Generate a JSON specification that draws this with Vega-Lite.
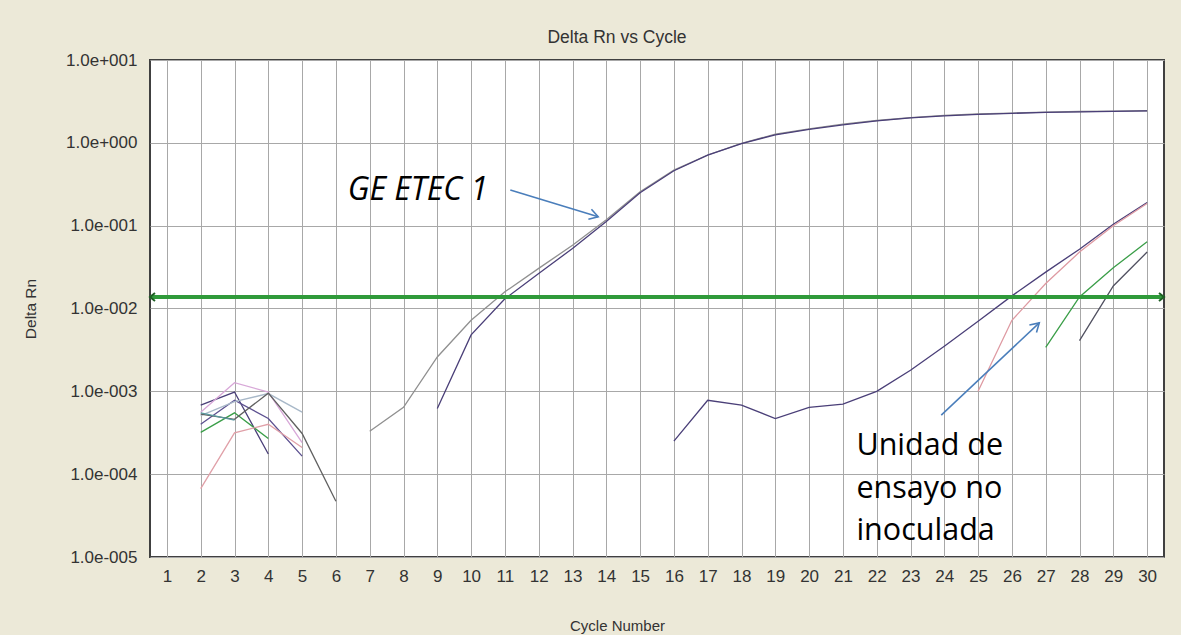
{
  "$schema": "https://vega.github.io/schema/vega-lite/v6.json",
  "width": 1014,
  "height": 497,
  "autosize": {"type": "none"},
  "padding": {"left": 150, "top": 60, "right": 17, "bottom": 78},
  "background": "#ECE9D8",
  "title": {"text": "Delta Rn vs Cycle", "font": "Liberation Sans", "fontSize": 17.5, "fontWeight": "normal", "color": "#333333", "anchor": "middle", "dx": -40, "offset": 5},
  "config": {
    "view": {"fill": "white", "stroke": "#404040", "strokeWidth": 2},
    "axis": {"gridColor": "#A8A8A8", "gridOpacity": 1, "gridWidth": 1, "ticks": false, "domain": false, "labelFont": "Liberation Sans", "labelFontSize": 17, "labelColor": "#333333", "labelFlush": false, "labelOverlap": false, "titleFont": "Liberation Sans", "titleFontWeight": "normal", "titleColor": "#333333"}
  },
  "datasets": {
    "curves": [
      {"series": "A", "cycle": 7, "rn": 0.00033}, {"series": "A", "cycle": 8, "rn": 0.00064}, {"series": "A", "cycle": 9, "rn": 0.0026}, {"series": "A", "cycle": 10, "rn": 0.0072}, {"series": "A", "cycle": 11, "rn": 0.0159}, {"series": "A", "cycle": 12, "rn": 0.0305}, {"series": "A", "cycle": 13, "rn": 0.058}, {"series": "A", "cycle": 14, "rn": 0.118}, {"series": "A", "cycle": 15, "rn": 0.257}, {"series": "A", "cycle": 16, "rn": 0.469}, {"series": "A", "cycle": 17, "rn": 0.713}, {"series": "A", "cycle": 18, "rn": 0.986}, {"series": "A", "cycle": 19, "rn": 1.27}, {"series": "A", "cycle": 20, "rn": 1.47}, {"series": "A", "cycle": 21, "rn": 1.68}, {"series": "A", "cycle": 22, "rn": 1.86}, {"series": "A", "cycle": 23, "rn": 2.02}, {"series": "A", "cycle": 24, "rn": 2.14}, {"series": "A", "cycle": 25, "rn": 2.23}, {"series": "A", "cycle": 26, "rn": 2.29}, {"series": "A", "cycle": 27, "rn": 2.35}, {"series": "A", "cycle": 28, "rn": 2.39}, {"series": "A", "cycle": 29, "rn": 2.42}, {"series": "A", "cycle": 30, "rn": 2.44},
      {"series": "B", "cycle": 9, "rn": 0.00062}, {"series": "B", "cycle": 10, "rn": 0.0048}, {"series": "B", "cycle": 11, "rn": 0.0131}, {"series": "B", "cycle": 12, "rn": 0.0265}, {"series": "B", "cycle": 13, "rn": 0.053}, {"series": "B", "cycle": 14, "rn": 0.112}, {"series": "B", "cycle": 15, "rn": 0.25}, {"series": "B", "cycle": 16, "rn": 0.46}, {"series": "B", "cycle": 17, "rn": 0.71}, {"series": "B", "cycle": 18, "rn": 0.98}, {"series": "B", "cycle": 19, "rn": 1.25}, {"series": "B", "cycle": 20, "rn": 1.45}, {"series": "B", "cycle": 21, "rn": 1.65}, {"series": "B", "cycle": 22, "rn": 1.84}, {"series": "B", "cycle": 23, "rn": 2.0}, {"series": "B", "cycle": 24, "rn": 2.12}, {"series": "B", "cycle": 25, "rn": 2.21}, {"series": "B", "cycle": 26, "rn": 2.27}, {"series": "B", "cycle": 27, "rn": 2.33}, {"series": "B", "cycle": 28, "rn": 2.37}, {"series": "B", "cycle": 29, "rn": 2.4}, {"series": "B", "cycle": 30, "rn": 2.43},
      {"series": "C", "cycle": 16, "rn": 0.00025}, {"series": "C", "cycle": 17, "rn": 0.00078}, {"series": "C", "cycle": 18, "rn": 0.00068}, {"series": "C", "cycle": 19, "rn": 0.00047}, {"series": "C", "cycle": 20, "rn": 0.00064}, {"series": "C", "cycle": 21, "rn": 0.0007}, {"series": "C", "cycle": 22, "rn": 0.001}, {"series": "C", "cycle": 23, "rn": 0.0018}, {"series": "C", "cycle": 24, "rn": 0.0035}, {"series": "C", "cycle": 25, "rn": 0.007}, {"series": "C", "cycle": 26, "rn": 0.0142}, {"series": "C", "cycle": 27, "rn": 0.0275}, {"series": "C", "cycle": 28, "rn": 0.052}, {"series": "C", "cycle": 29, "rn": 0.104}, {"series": "C", "cycle": 30, "rn": 0.19},
      {"series": "D", "cycle": 25, "rn": 0.001}, {"series": "D", "cycle": 26, "rn": 0.0072}, {"series": "D", "cycle": 27, "rn": 0.02}, {"series": "D", "cycle": 28, "rn": 0.048}, {"series": "D", "cycle": 29, "rn": 0.1}, {"series": "D", "cycle": 30, "rn": 0.185},
      {"series": "E", "cycle": 27, "rn": 0.0034}, {"series": "E", "cycle": 28, "rn": 0.0138}, {"series": "E", "cycle": 29, "rn": 0.031}, {"series": "E", "cycle": 30, "rn": 0.064},
      {"series": "F", "cycle": 28, "rn": 0.0041}, {"series": "F", "cycle": 29, "rn": 0.0187}, {"series": "F", "cycle": 30, "rn": 0.048},
      {"series": "N1", "cycle": 2, "rn": 0.00068}, {"series": "N1", "cycle": 3, "rn": 0.00098}, {"series": "N1", "cycle": 4, "rn": 0.000175},
      {"series": "N2", "cycle": 2, "rn": 0.0004}, {"series": "N2", "cycle": 3, "rn": 0.00078}, {"series": "N2", "cycle": 4, "rn": 0.00047}, {"series": "N2", "cycle": 5, "rn": 0.000165},
      {"series": "N3", "cycle": 2, "rn": 0.00032}, {"series": "N3", "cycle": 3, "rn": 0.00055}, {"series": "N3", "cycle": 4, "rn": 0.00027},
      {"series": "N4", "cycle": 2, "rn": 0.000067}, {"series": "N4", "cycle": 3, "rn": 0.000315}, {"series": "N4", "cycle": 4, "rn": 0.0004}, {"series": "N4", "cycle": 5, "rn": 0.00021},
      {"series": "N5", "cycle": 2, "rn": 0.00056}, {"series": "N5", "cycle": 3, "rn": 0.00127}, {"series": "N5", "cycle": 4, "rn": 0.00098}, {"series": "N5", "cycle": 5, "rn": 0.00024},
      {"series": "N6", "cycle": 2, "rn": 0.00051}, {"series": "N6", "cycle": 3, "rn": 0.00075}, {"series": "N6", "cycle": 4, "rn": 0.00094}, {"series": "N6", "cycle": 5, "rn": 0.00056},
      {"series": "N7", "cycle": 2, "rn": 0.00053}, {"series": "N7", "cycle": 3, "rn": 0.00046}, {"series": "N7", "cycle": 4, "rn": 0.00095}, {"series": "N7", "cycle": 5, "rn": 0.00031}, {"series": "N7", "cycle": 6, "rn": 0.000047},
      {"series": "N8", "cycle": 2, "rn": 0.00055}, {"series": "N8", "cycle": 3, "rn": 0.00045}
    ],
    "threshold": [{"cycle": 0.5, "cycleEnd": 30.5, "rn": 0.0138}],
    "thresholdEnds": [{"cycle": 0.5, "rn": 0.0138, "side": "left"}, {"cycle": 30.5, "rn": 0.0138, "side": "right"}],
    "arrows": [{"name": "a1", "cycleStart": 11.16, "rnStart": 0.269, "cycle": 13.76, "rn": 0.128}, {"name": "a2", "cycleStart": 23.91, "rnStart": 0.000516, "cycle": 26.81, "rn": 0.00671}],
    "labels": [{"name": "ge", "cycle": 6.35, "rn": 0.2037, "label": "GE ETEC 1"}, {"name": "un", "cycle": 21.4, "rn": 0.00017, "label": "Unidad de\nensayo no\ninoculada"}]
  },
  "encoding": {
    "x": {"field": "cycle", "type": "quantitative", "scale": {"domain": [0.5, 30.5], "nice": false, "zero": false}, "axis": {"values": [1,2,3,4,5,6,7,8,9,10,11,12,13,14,15,16,17,18,19,20,21,22,23,24,25,26,27,28,29,30], "grid": true, "labelPadding": 11, "title": "Cycle Number", "titleFontSize": 15, "titlePadding": 34, "titleX": 467}},
    "y": {"field": "rn", "type": "quantitative", "scale": {"type": "log", "domain": [0.00001, 10], "nice": false}, "axis": {"values": [0.00001, 0.0001, 0.001, 0.01, 0.1, 1, 10], "grid": true, "labelPadding": 13, "labelExpr": "'1.0e' + (round(log(datum.value)/LN10) < 0 ? '-' : '+') + '00' + abs(round(log(datum.value)/LN10))", "title": "Delta Rn", "titleFontSize": 15.5, "titlePadding": 27}}
  },
  "layer": [
    {
      "data": {"name": "curves"},
      "mark": {"type": "line", "strokeWidth": 1.3},
      "encoding": {
        "color": {"field": "series", "type": "nominal", "legend": null, "scale": {"domain": ["A", "B", "C", "D", "E", "F", "N1", "N2", "N3", "N4", "N5", "N6", "N7", "N8"], "range": ["#909090", "#4A3F78", "#4A3F78", "#DE9AA2", "#3A9E48", "#505060", "#4A3F78", "#5C5090", "#3A9E48", "#E0A0A8", "#D8A8D8", "#A8B8C8", "#606060", "#5A9AA0"]}}
      }
    },
    {
      "data": {"name": "threshold"},
      "mark": {"type": "rule", "color": "#2F9A3A", "strokeWidth": 4},
      "encoding": {"x2": {"field": "cycleEnd"}}
    },
    {
      "data": {"name": "thresholdEnds"},
      "transform": [{"filter": "datum.side == 'right'"}],
      "mark": {"type": "point", "shape": "M-1,-0.8L0,0L-1,0.8", "filled": false, "stroke": "#1E5E24", "strokeWidth": 2, "size": 100, "opacity": 1},
      "encoding": {}
    },
    {
      "data": {"name": "thresholdEnds"},
      "transform": [{"filter": "datum.side == 'left'"}],
      "mark": {"type": "point", "shape": "M1,-0.8L0,0L1,0.8", "filled": false, "stroke": "#1E5E24", "strokeWidth": 2, "size": 100, "opacity": 1},
      "encoding": {}
    },
    {
      "data": {"name": "arrows"},
      "mark": {"type": "rule", "color": "#4A7EBB", "strokeWidth": 1.6},
      "encoding": {"x2": {"field": "cycleStart"}, "y2": {"field": "rnStart"}}
    },
    {
      "data": {"name": "arrows"},
      "transform": [{"filter": "datum.name == 'a1'"}],
      "mark": {"type": "point", "shape": "M-1,-0.6L0,0L-1,0.6", "filled": false, "stroke": "#4A7EBB", "strokeWidth": 1.6, "size": 300, "opacity": 1, "angle": 17},
      "encoding": {}
    },
    {
      "data": {"name": "arrows"},
      "transform": [{"filter": "datum.name == 'a2'"}],
      "mark": {"type": "point", "shape": "M-1,-0.6L0,0L-1,0.6", "filled": false, "stroke": "#4A7EBB", "strokeWidth": 1.6, "size": 300, "opacity": 1, "angle": -43},
      "encoding": {}
    },
    {
      "data": {"name": "labels"},
      "transform": [{"filter": "datum.name == 'ge'"}],
      "mark": {"type": "text", "align": "left", "baseline": "alphabetic", "font": "Open Sans", "fontStyle": "italic", "fontSize": 32, "color": "#000000"},
      "encoding": {"text": {"field": "label"}}
    },
    {
      "data": {"name": "labels"},
      "transform": [{"filter": "datum.name == 'un'"}],
      "mark": {"type": "text", "align": "left", "baseline": "alphabetic", "font": "Open Sans", "fontSize": 30.5, "lineBreak": "\n", "lineHeight": 42.5, "color": "#000000"},
      "encoding": {"text": {"field": "label"}}
    }
  ]
}
